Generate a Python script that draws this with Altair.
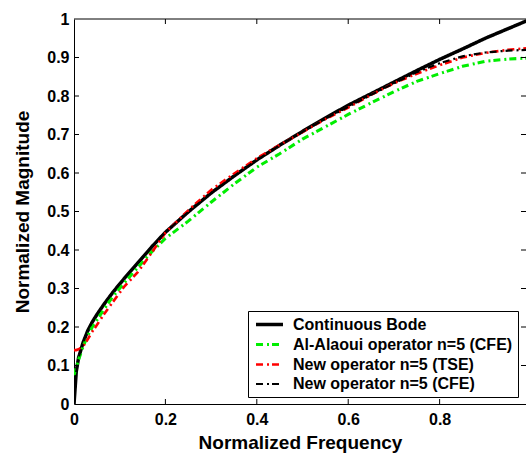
import altair as alt
import pandas as pd

# ---- data ----
freq = [0, 0.005, 0.01, 0.02, 0.03, 0.04, 0.05, 0.065, 0.085, 0.11, 0.14, 0.17,
        0.2, 0.25, 0.3, 0.35, 0.4, 0.45, 0.5, 0.55, 0.6, 0.65, 0.7, 0.75, 0.8,
        0.85, 0.9, 0.95, 1.0]

bode = [0.0, 0.085, 0.12, 0.16, 0.19, 0.213, 0.232, 0.258, 0.29, 0.326, 0.367, 0.408,
        0.446, 0.499, 0.548, 0.592, 0.634, 0.672, 0.708, 0.743, 0.776, 0.806, 0.836,
        0.866, 0.895, 0.922, 0.95, 0.975, 1.0]

alaoui = [0.075, 0.095, 0.115, 0.15, 0.177, 0.2, 0.218, 0.245, 0.279, 0.315, 0.355, 0.395,
          0.43, 0.475, 0.524, 0.571, 0.615, 0.65, 0.688, 0.72, 0.752, 0.782, 0.811,
          0.838, 0.858, 0.877, 0.89, 0.896, 0.899]

new_tse = [0.14, 0.14, 0.142, 0.15, 0.168, 0.188, 0.205, 0.232, 0.265, 0.305, 0.343, 0.393,
           0.445, 0.503, 0.556, 0.598, 0.638, 0.673, 0.706, 0.74, 0.77, 0.803, 0.833,
           0.858, 0.88, 0.9, 0.912, 0.92, 0.925]

new_cfe = [0.0, 0.085, 0.12, 0.16, 0.19, 0.213, 0.232, 0.258, 0.29, 0.326, 0.367, 0.408,
           0.446, 0.499, 0.548, 0.592, 0.634, 0.672, 0.707, 0.741, 0.772, 0.803, 0.833,
           0.862, 0.885, 0.903, 0.913, 0.918, 0.92]

series_names = ["Continuous Bode", "Al-Alaoui operator n=5 (CFE)",
                "New operator n=5 (TSE)", "New operator n=5 (CFE)"]
series_values = [bode, alaoui, new_tse, new_cfe]
series_colors = ["#000000", "#00ee00", "#ff0000", "#000000"]
series_dash = [[1, 0], [7, 4, 2, 3], [7, 4, 2, 3], [7, 4, 2, 3]]
series_width = [3.5, 2.2, 2.2, 2.2]

x_ticks = [0, 0.2, 0.4, 0.6, 0.8]
y_ticks = [0, 0.1, 0.2, 0.3, 0.4, 0.5, 0.6, 0.7, 0.8, 0.9, 1.0]

rows = []
for name, vals in zip(series_names, series_values):
    for f, v in zip(freq, vals):
        rows.append({"series": name, "x": f, "y": v})
df = pd.DataFrame(rows)

W, H = 452, 385
FONT = "Liberation Sans"

xscale = alt.Scale(domain=[0, 0.989], nice=False, zero=False)
yscale = alt.Scale(domain=[0, 1], nice=False)


def legend():
    return alt.Legend(title=None, orient="none", legendX=174, legendY=292,
                      symbolType="M-2,0H2", symbolSize=182, symbolStrokeWidth=2.5,
                      symbolOffset=8, symbolFillColor="transparent",
                      labelFont=FONT, labelFontSize=16, labelFontWeight="bold",
                      labelColor="black", labelOffset=15, labelLimit=400, padding=5,
                      rowPadding=3, strokeColor="black", fillColor="white",
                      cornerRadius=0)


color = alt.Color("series:N", scale=alt.Scale(domain=series_names, range=series_colors),
                  legend=legend())
dash = alt.StrokeDash("series:N", scale=alt.Scale(domain=series_names, range=series_dash),
                      legend=legend())
swidth = alt.StrokeWidth("series:N", scale=alt.Scale(domain=series_names, range=series_width),
                         legend=legend())

xaxis = alt.Axis(values=x_ticks, format="~g", ticks=False, tickSize=0, grid=False,
                 labelFlush=False,
                 domainColor="black", domainWidth=1, labelFont=FONT, labelFontSize=16,
                 labelFontWeight="bold", labelColor="black", labelPadding=7,
                 title="Normalized Frequency", titleFont=FONT, titleFontSize=19,
                 titleFontWeight="bold", titleColor="black", titlePadding=6)
yaxis = alt.Axis(values=y_ticks, format="~g", ticks=False, tickSize=0, grid=False,
                 labelFlush=False,
                 domainColor="black", domainWidth=1, labelFont=FONT, labelFontSize=16,
                 labelFontWeight="bold", labelColor="black", labelPadding=5,
                 title="Normalized Magnitude", titleFont=FONT, titleFontSize=19,
                 titleFontWeight="bold", titleColor="black", titlePadding=14)

layers = []
for name in series_names:
    layers.append(alt.Chart(df).transform_filter(alt.datum.series == name)
                  .mark_line(clip=True).encode(
                      x=alt.X("x:Q", scale=xscale, axis=xaxis),
                      y=alt.Y("y:Q", scale=yscale, axis=yaxis),
                      color=color, strokeDash=dash, strokeWidth=swidth))

xt = pd.DataFrame({"x": x_ticks[1:]})
yt = pd.DataFrame({"y": y_ticks[1:-1]})

bottom_ticks = alt.Chart(xt).mark_rule(color="black", strokeWidth=1).encode(
    x=alt.X("x:Q", scale=xscale, axis=xaxis), y=alt.value(H), y2=alt.value(H - 5))
top_ticks = alt.Chart(xt).mark_rule(color="black", strokeWidth=1).encode(
    x=alt.X("x:Q", scale=xscale, axis=xaxis), y=alt.value(0), y2=alt.value(5))
left_ticks = alt.Chart(yt).mark_rule(color="black", strokeWidth=1).encode(
    y=alt.Y("y:Q", scale=yscale, axis=yaxis), x=alt.value(0), x2=alt.value(5))
right_ticks = alt.Chart(yt).mark_rule(color="black", strokeWidth=1).encode(
    y=alt.Y("y:Q", scale=yscale, axis=yaxis), x=alt.value(W - 5), x2=alt.value(W))
top_border = alt.Chart(pd.DataFrame({"a": [0]})).mark_rule(color="black", strokeWidth=1).encode(
    x=alt.value(0), x2=alt.value(W), y=alt.value(0))

chart = alt.layer(*layers, bottom_ticks, top_ticks, left_ticks, right_ticks, top_border).properties(
    width=W, height=H,
    autosize=alt.AutoSizeParams(type="none"),
    padding={"left": 74, "top": 19, "right": 0, "bottom": 50},
    background="white",
).configure_view(stroke=None)

chart.save("out.html", embed_options={"renderer": "svg", "actions": False})
